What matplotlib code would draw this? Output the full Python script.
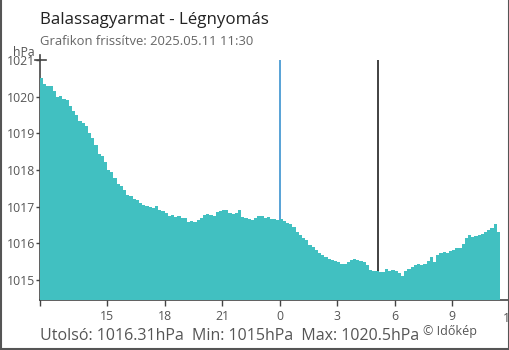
import pandas as pd
import matplotlib
matplotlib.use("Agg")
import matplotlib.pyplot as plt
from matplotlib.lines import Line2D

plt.rcParams['font.family'] = ['Open Sans', 'DejaVu Sans']

# pressure readings, every 10 minutes from 2025-05-10 11:30
pressure = [
    1020.50, 1020.35, 1020.30, 1020.28, 1020.15, 1020.00, 1020.02, 1019.95, 1019.92, 1019.75,
    1019.62, 1019.50, 1019.35, 1019.27, 1019.20, 1019.00, 1018.88, 1018.68, 1018.45, 1018.38,
    1018.22, 1018.00, 1017.95, 1017.78, 1017.63, 1017.57, 1017.45, 1017.33, 1017.28, 1017.22,
    1017.17, 1017.10, 1017.05, 1017.02, 1016.98, 1016.96, 1017.02, 1016.90, 1016.88, 1016.82,
    1016.75, 1016.78, 1016.72, 1016.74, 1016.70, 1016.68, 1016.58, 1016.60, 1016.58, 1016.65,
    1016.68, 1016.76, 1016.80, 1016.78, 1016.74, 1016.85, 1016.88, 1016.90, 1016.92, 1016.82,
    1016.80, 1016.84, 1016.92, 1016.72, 1016.70, 1016.66, 1016.65, 1016.68, 1016.75, 1016.74,
    1016.70, 1016.72, 1016.66, 1016.66, 1016.65, 1016.66, 1016.60, 1016.55, 1016.54, 1016.45,
    1016.32, 1016.22, 1016.15, 1016.10, 1015.95, 1015.90, 1015.82, 1015.75, 1015.68, 1015.62,
    1015.57, 1015.55, 1015.52, 1015.50, 1015.45, 1015.43, 1015.50, 1015.55, 1015.58, 1015.55,
    1015.53, 1015.50, 1015.40, 1015.28, 1015.25, 1015.24, 1015.23, 1015.22, 1015.30, 1015.25,
    1015.26, 1015.24, 1015.18, 1015.12, 1015.24, 1015.30, 1015.35, 1015.40, 1015.43, 1015.40,
    1015.45, 1015.52, 1015.62, 1015.50, 1015.68, 1015.74, 1015.76, 1015.74, 1015.78, 1015.82,
    1015.86, 1015.88, 1015.98, 1016.15, 1016.22, 1016.18, 1016.20, 1016.22, 1016.26, 1016.30,
    1016.36, 1016.42, 1016.52, 1016.31,
]
start = pd.Timestamp('2025-05-10 11:30')
times = pd.date_range(start, periods=len(pressure) + 1, freq='10min')

y_ticks = [1015, 1016, 1017, 1018, 1019, 1020, 1021]
x_tick_hours = ['2025-05-10 15:00', '2025-05-10 18:00', '2025-05-10 21:00', '2025-05-11 00:00',
                '2025-05-11 03:00', '2025-05-11 06:00', '2025-05-11 09:00']
x_tick_labels = ['15', '18', '21', '0', '3', '6', '9']
midnight = pd.Timestamp('2025-05-11 00:00')
sunrise = pd.Timestamp('2025-05-11 05:07')

last = pressure[-1]
low = 1015
high = 1020.5

fill_color = '#41c0c1'
axis_color = '#444444'
y_bottom = 1014.455

fig = plt.figure(figsize=(5.1, 3.5), dpi=100)
ax = fig.add_axes([40 / 510, 50 / 350, 469.6 / 510, 240 / 350])

ax.fill_between(times, pressure + [pressure[-1]], y_bottom, step='post',
                color=fill_color, lw=0, zorder=3)
ax.vlines(midnight, y_bottom, 1021, color='#4a9bd3', lw=1.3, zorder=2)
ax.vlines(sunrise, y_bottom, 1021, color='#333333', lw=1.3, zorder=2)

ax.set_xlim(start, pd.Timestamp('2025-05-11 12:00'))
ax.set_ylim(y_bottom, 1021)

for s in ['top', 'right']:
    ax.spines[s].set_visible(False)
for s in ['left', 'bottom']:
    ax.spines[s].set_color(axis_color)
    ax.spines[s].set_linewidth(1.2)

ax.set_yticks(y_ticks)
ax.set_yticklabels([str(v) for v in y_ticks])
ax.tick_params(axis='y', length=3.2, width=1, color=axis_color, pad=0.5,
               labelsize=8.8, labelcolor='#555555')

tick_pos = [start] + [pd.Timestamp(t) for t in x_tick_hours]
ax.set_xticks(tick_pos)
ax.set_xticklabels([''] + x_tick_labels)
ax.tick_params(axis='x', length=4.5, width=1, color=axis_color, pad=3,
               labelsize=8.8, labelcolor='#555555')
for t, lab in zip(ax.xaxis.get_ticklines()[::2], [''] + x_tick_labels):
    if lab == '0':
        t.set_color('#4a9bd3')

# cut-off "12" label at the right edge
ax.text(pd.Timestamp('2025-05-11 12:00'), -0.052, '12', transform=ax.get_xaxis_transform(),
        ha='center', va='top', fontsize=8.8, color='#555555', clip_on=False)

# small cross at the top of the y axis
fig.add_artist(Line2D([35 / 510, 46 / 510], [290 / 350, 290 / 350], color=axis_color, lw=1.2))
fig.add_artist(Line2D([40 / 510, 40 / 510], [290 / 350, 295 / 350], color=axis_color, lw=1.2))

fig.text(40 / 510, 1 - 24 / 350, 'Balassagyarmat - Légnyomás', fontsize=12.2,
         color='#222222', va='baseline')
fig.text(40 / 510, 1 - 45 / 350, 'Grafikon frissítve: 2025.05.11 11:30', fontsize=9.4,
         color='#666666', va='baseline')
fig.text(24 / 510, 1 - 56 / 350, 'hPa', fontsize=8.8, color='#555555', ha='center', va='baseline')

stats = f'Utolsó: {last}hPa  Min: {low}hPa  Max: {high}hPa'
fig.text(40 / 510, 1 - 340 / 350, stats, fontsize=11.5, color='#555555', va='baseline')
fig.text(423 / 510, 1 - 335 / 350, '© Időkép', fontsize=9.0, color='#555555', va='baseline')

# outer frame
for xs, ys in [([0.5 / 510, 0.5 / 510], [0, 1]),
               ([509 / 510, 509 / 510], [0, 1]),
               ([0, 1], [1.5 / 350, 1.5 / 350])]:
    fig.add_artist(Line2D(xs, ys, color='#555555', lw=1.5))

fig.savefig('out.png', dpi=100)
